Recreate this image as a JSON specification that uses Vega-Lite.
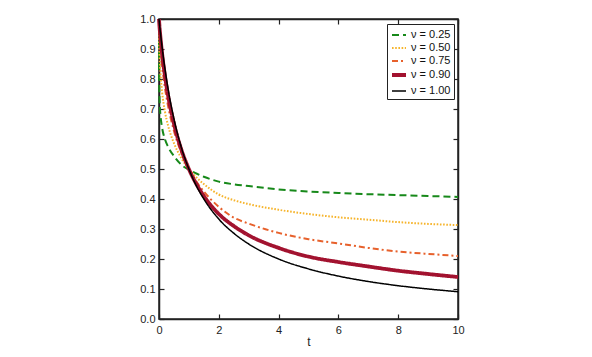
{
  "$schema": "https://vega.github.io/schema/vega-lite/v6.json",
  "autosize": {"type": "none"},
  "width": 299,
  "height": 300,
  "padding": {"left": 159, "top": 19, "right": 134, "bottom": 38},
  "config": {
    "view": {"stroke": "#222", "strokeWidth": 1.5},
    "font": "Liberation Sans",
    "axis": {
      "grid": false,
      "domainColor": "#222",
      "domainWidth": 1.5,
      "tickColor": "#222",
      "tickWidth": 1.2,
      "tickSize": -5,
      "labelFlush": false,
      "labelFont": "Liberation Sans",
      "labelFontSize": 11,
      "labelColor": "#222",
      "titleFont": "Liberation Sans",
      "titleFontSize": 12,
      "titleFontWeight": "normal",
      "titleColor": "#222"
    }
  },
  "data": {
    "values": [
      {"t": 0, "series": "ν = 0.25", "f": 1},
      {"t": 0.001, "series": "ν = 0.25", "f": 0.849},
      {"t": 0.005, "series": "ν = 0.25", "f": 0.79},
      {"t": 0.02, "series": "ν = 0.25", "f": 0.727},
      {"t": 0.05, "series": "ν = 0.25", "f": 0.679},
      {"t": 0.1, "series": "ν = 0.25", "f": 0.64},
      {"t": 0.2, "series": "ν = 0.25", "f": 0.599},
      {"t": 0.3, "series": "ν = 0.25", "f": 0.575},
      {"t": 0.5, "series": "ν = 0.25", "f": 0.543},
      {"t": 0.75, "series": "ν = 0.25", "f": 0.514},
      {"t": 1, "series": "ν = 0.25", "f": 0.497},
      {"t": 1.25, "series": "ν = 0.25", "f": 0.485},
      {"t": 1.5, "series": "ν = 0.25", "f": 0.474},
      {"t": 2, "series": "ν = 0.25", "f": 0.458},
      {"t": 2.5, "series": "ν = 0.25", "f": 0.449},
      {"t": 3, "series": "ν = 0.25", "f": 0.443},
      {"t": 4, "series": "ν = 0.25", "f": 0.432},
      {"t": 5, "series": "ν = 0.25", "f": 0.425},
      {"t": 6, "series": "ν = 0.25", "f": 0.42},
      {"t": 7, "series": "ν = 0.25", "f": 0.416},
      {"t": 8, "series": "ν = 0.25", "f": 0.413},
      {"t": 9, "series": "ν = 0.25", "f": 0.41},
      {"t": 10, "series": "ν = 0.25", "f": 0.407},

      {"t": 0, "series": "ν = 0.50", "f": 1},
      {"t": 0.001, "series": "ν = 0.50", "f": 0.969},
      {"t": 0.005, "series": "ν = 0.50", "f": 0.934},
      {"t": 0.02, "series": "ν = 0.50", "f": 0.876},
      {"t": 0.05, "series": "ν = 0.50", "f": 0.817},
      {"t": 0.1, "series": "ν = 0.50", "f": 0.76},
      {"t": 0.2, "series": "ν = 0.50", "f": 0.691},
      {"t": 0.3, "series": "ν = 0.50", "f": 0.646},
      {"t": 0.5, "series": "ν = 0.50", "f": 0.586},
      {"t": 0.75, "series": "ν = 0.50", "f": 0.536},
      {"t": 1, "series": "ν = 0.50", "f": 0.5},
      {"t": 1.25, "series": "ν = 0.50", "f": 0.472},
      {"t": 1.5, "series": "ν = 0.50", "f": 0.45},
      {"t": 2, "series": "ν = 0.50", "f": 0.415},
      {"t": 2.5, "series": "ν = 0.50", "f": 0.396},
      {"t": 3, "series": "ν = 0.50", "f": 0.383},
      {"t": 4, "series": "ν = 0.50", "f": 0.364},
      {"t": 5, "series": "ν = 0.50", "f": 0.35},
      {"t": 6, "series": "ν = 0.50", "f": 0.339},
      {"t": 7, "series": "ν = 0.50", "f": 0.331},
      {"t": 8, "series": "ν = 0.50", "f": 0.323},
      {"t": 9, "series": "ν = 0.50", "f": 0.317},
      {"t": 10, "series": "ν = 0.50", "f": 0.313},

      {"t": 0, "series": "ν = 0.75", "f": 1},
      {"t": 0.001, "series": "ν = 0.75", "f": 0.994},
      {"t": 0.005, "series": "ν = 0.75", "f": 0.982},
      {"t": 0.02, "series": "ν = 0.75", "f": 0.949},
      {"t": 0.05, "series": "ν = 0.75", "f": 0.904},
      {"t": 0.1, "series": "ν = 0.75", "f": 0.849},
      {"t": 0.2, "series": "ν = 0.75", "f": 0.77},
      {"t": 0.3, "series": "ν = 0.75", "f": 0.712},
      {"t": 0.5, "series": "ν = 0.75", "f": 0.627},
      {"t": 0.75, "series": "ν = 0.75", "f": 0.554},
      {"t": 1, "series": "ν = 0.75", "f": 0.5},
      {"t": 1.25, "series": "ν = 0.75", "f": 0.458},
      {"t": 1.5, "series": "ν = 0.75", "f": 0.425},
      {"t": 2, "series": "ν = 0.75", "f": 0.374},
      {"t": 2.5, "series": "ν = 0.75", "f": 0.338},
      {"t": 3, "series": "ν = 0.75", "f": 0.318},
      {"t": 4, "series": "ν = 0.75", "f": 0.287},
      {"t": 5, "series": "ν = 0.75", "f": 0.266},
      {"t": 6, "series": "ν = 0.75", "f": 0.252},
      {"t": 7, "series": "ν = 0.75", "f": 0.237},
      {"t": 8, "series": "ν = 0.75", "f": 0.225},
      {"t": 9, "series": "ν = 0.75", "f": 0.217},
      {"t": 10, "series": "ν = 0.75", "f": 0.21},

      {"t": 0, "series": "ν = 0.90", "f": 1},
      {"t": 0.001, "series": "ν = 0.90", "f": 0.998},
      {"t": 0.005, "series": "ν = 0.90", "f": 0.992},
      {"t": 0.02, "series": "ν = 0.90", "f": 0.971},
      {"t": 0.05, "series": "ν = 0.90", "f": 0.937},
      {"t": 0.1, "series": "ν = 0.90", "f": 0.888},
      {"t": 0.2, "series": "ν = 0.90", "f": 0.81},
      {"t": 0.3, "series": "ν = 0.90", "f": 0.747},
      {"t": 0.5, "series": "ν = 0.90", "f": 0.651},
      {"t": 0.75, "series": "ν = 0.90", "f": 0.564},
      {"t": 1, "series": "ν = 0.90", "f": 0.5},
      {"t": 1.25, "series": "ν = 0.90", "f": 0.45},
      {"t": 1.5, "series": "ν = 0.90", "f": 0.41},
      {"t": 2, "series": "ν = 0.90", "f": 0.35},
      {"t": 2.5, "series": "ν = 0.90", "f": 0.31},
      {"t": 3, "series": "ν = 0.90", "f": 0.279},
      {"t": 4, "series": "ν = 0.90", "f": 0.237},
      {"t": 5, "series": "ν = 0.90", "f": 0.208},
      {"t": 6, "series": "ν = 0.90", "f": 0.19},
      {"t": 7, "series": "ν = 0.90", "f": 0.175},
      {"t": 8, "series": "ν = 0.90", "f": 0.161},
      {"t": 9, "series": "ν = 0.90", "f": 0.15},
      {"t": 10, "series": "ν = 0.90", "f": 0.14},

      {"t": 0, "series": "ν = 1.00", "f": 1},
      {"t": 0.001, "series": "ν = 1.00", "f": 0.999},
      {"t": 0.005, "series": "ν = 1.00", "f": 0.995},
      {"t": 0.02, "series": "ν = 1.00", "f": 0.98},
      {"t": 0.05, "series": "ν = 1.00", "f": 0.952},
      {"t": 0.1, "series": "ν = 1.00", "f": 0.909},
      {"t": 0.2, "series": "ν = 1.00", "f": 0.833},
      {"t": 0.3, "series": "ν = 1.00", "f": 0.769},
      {"t": 0.5, "series": "ν = 1.00", "f": 0.667},
      {"t": 0.75, "series": "ν = 1.00", "f": 0.571},
      {"t": 1, "series": "ν = 1.00", "f": 0.5},
      {"t": 1.25, "series": "ν = 1.00", "f": 0.444},
      {"t": 1.5, "series": "ν = 1.00", "f": 0.4},
      {"t": 2, "series": "ν = 1.00", "f": 0.333},
      {"t": 2.5, "series": "ν = 1.00", "f": 0.286},
      {"t": 3, "series": "ν = 1.00", "f": 0.25},
      {"t": 4, "series": "ν = 1.00", "f": 0.2},
      {"t": 5, "series": "ν = 1.00", "f": 0.167},
      {"t": 6, "series": "ν = 1.00", "f": 0.143},
      {"t": 7, "series": "ν = 1.00", "f": 0.125},
      {"t": 8, "series": "ν = 1.00", "f": 0.111},
      {"t": 9, "series": "ν = 1.00", "f": 0.1},
      {"t": 10, "series": "ν = 1.00", "f": 0.091}
    ]
  },
  "layer": [
    {
      "mark": {"type": "line", "interpolate": "monotone", "strokeCap": "butt"},
      "encoding": {
        "x": {
          "field": "t", "type": "quantitative",
          "scale": {"domain": [0, 10], "nice": false},
          "axis": {"values": [0, 2, 4, 6, 8, 10], "title": "t", "labelPadding": 10, "titlePadding": 1}
        },
        "y": {
          "field": "f", "type": "quantitative",
          "scale": {"domain": [0, 1], "nice": false},
          "axis": {"values": [0, 0.1, 0.2, 0.3, 0.4, 0.5, 0.6, 0.7, 0.8, 0.9, 1], "format": ".1f", "title": null, "labelPadding": 9}
        },
        "color": {
          "field": "series", "type": "nominal",
          "scale": {
            "domain": ["ν = 0.25", "ν = 0.50", "ν = 0.75", "ν = 0.90", "ν = 1.00"],
            "range": ["#17891a", "#f6b42c", "#e7612c", "#a2122f", "#000000"]
          },
          "legend": {
            "title": null, "orient": "none", "legendX": 228, "legendY": 5,
            "strokeColor": "#222", "fillColor": "white", "padding": 3,
            "symbolType": "stroke", "symbolSize": 196, "rowPadding": 0,
            "labelFontSize": 11, "labelFont": "Liberation Sans", "labelColor": "#111", "labelOffset": 3
          }
        },
        "strokeDash": {
          "field": "series", "type": "nominal",
          "scale": {
            "domain": ["ν = 0.25", "ν = 0.50", "ν = 0.75", "ν = 0.90", "ν = 1.00"],
            "range": [[7, 4], [1.6, 1.6], [6, 3, 2, 3], [1, 0], [1, 0]]
          },
          "legend": {"title": null}
        },
        "strokeWidth": {
          "field": "series", "type": "nominal",
          "scale": {
            "type": "ordinal",
            "domain": ["ν = 0.25", "ν = 0.50", "ν = 0.75", "ν = 0.90", "ν = 1.00"],
            "range": [2, 2, 2, 3.8, 1.5]
          },
          "legend": {"title": null}
        }
      }
    },
    {
      "mark": {"type": "line", "opacity": 0},
      "encoding": {
        "x": {
          "field": "t", "type": "quantitative",
          "scale": {"domain": [0, 10], "nice": false},
          "axis": {"orient": "top", "values": [0, 2, 4, 6, 8, 10], "labels": false, "title": null}
        },
        "y": {
          "field": "f", "type": "quantitative",
          "scale": {"domain": [0, 1], "nice": false},
          "axis": {"orient": "right", "values": [0, 0.1, 0.2, 0.3, 0.4, 0.5, 0.6, 0.7, 0.8, 0.9, 1], "labels": false, "title": null}
        },
        "detail": {"field": "series", "type": "nominal"}
      }
    }
  ],
  "resolve": {"axis": {"x": "independent", "y": "independent"}}
}
